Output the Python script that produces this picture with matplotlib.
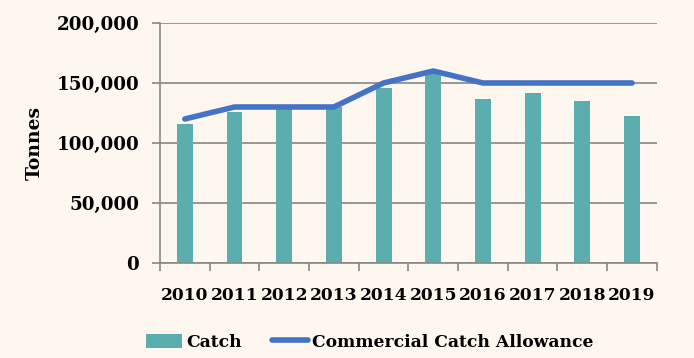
import matplotlib.pyplot as plt
import numpy as np
from matplotlib.ticker import FuncFormatter

years = ["2010", "2011", "2012", "2013", "2014", "2015", "2016", "2017", "2018", "2019"]
catch = [116000, 126000, 128000, 130000, 146000, 158000, 137000, 142000, 135000, 122500]
allowance = [120000, 130000, 130000, 130000, 150000, 160000, 150000, 150000, 150000, 150000]

bg = '#FDF7F0'
plt.rcParams['font.family'] = 'DejaVu Serif'
plt.rcParams['font.weight'] = 'bold'

fig = plt.figure(figsize=(6.94, 3.58), dpi=100, facecolor=bg)
ax = fig.add_axes([0.2305, 0.2654, 0.716, 0.6704], facecolor=bg)

x = np.arange(len(years))
bars = ax.bar(x, catch, 0.32, color='#5BAEAD', label='Catch', zorder=2)
line, = ax.plot(x, allowance, color='#4472C4', lw=4, solid_capstyle='round',
                label='Commercial Catch Allowance', zorder=3)

ax.set_xlim(-0.5, len(years) - 0.5)
ax.set_ylim(0, 200000)
ax.set_yticks(np.arange(0, 200001, 50000))
ax.yaxis.set_major_formatter(FuncFormatter(lambda v, p: f'{int(v):,}'))
ax.yaxis.grid(True, color='#878787', lw=1.2, zorder=0)

ax.set_xticks(x)
ax.set_xticklabels(years)
ax.set_xticks(np.arange(-0.5, len(years)), minor=True)
ax.tick_params(axis='x', which='major', length=0, pad=17, labelsize=12.3)
ax.tick_params(axis='x', which='minor', length=6, color='#878787', width=1.2)
ax.tick_params(axis='y', length=6, color='#878787', width=1.2, labelsize=13.2, pad=9)

for s in ['top', 'right']:
    ax.spines[s].set_visible(False)
ax.spines['left'].set_color('#878787')
ax.spines['bottom'].set_color('#878787')
ax.spines['left'].set_linewidth(1.2)
ax.spines['bottom'].set_linewidth(1.2)

ax.set_ylabel('Tonnes', fontsize=13.5, fontweight='bold', labelpad=9)

fig.legend([bars, line], ['Catch', 'Commercial Catch Allowance'],
           loc='lower center', bbox_to_anchor=(0.533, -0.022), ncol=2, frameon=False,
           fontsize=12.3, handlelength=2.1, handleheight=0.9, columnspacing=1.8,
           handletextpad=0.25)

fig.savefig('out.png', dpi=100, facecolor=bg)
